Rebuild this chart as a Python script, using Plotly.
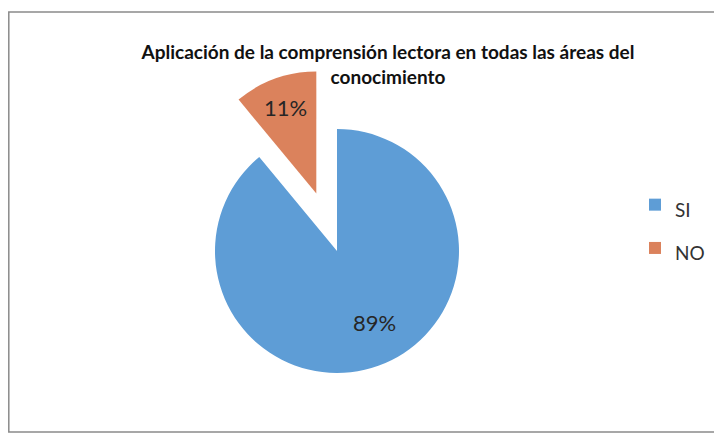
import plotly.graph_objects as go

labels = ["SI", "NO"]
values = [89, 11]
colors = ["#5e9dd6", "#db825c"]
pulls = [0, 0.5]
title_text = "Aplicación de la comprensión lectora en todas las áreas del<br>conocimiento"

W, H = 722, 436

legend_labels = [f'<span style="font-size:19px">{l}</span>' for l in labels]
nb = "\u00a0"
text_templates = [nb + "<br>" + nb * 6 + "%{percent}", "%{percent}"]

fig = go.Figure(go.Pie(
    labels=legend_labels,
    values=values,
    marker=dict(colors=colors, line=dict(width=0)),
    pull=pulls,
    sort=False,
    direction="clockwise",
    rotation=0,
    texttemplate=text_templates,
    textposition="inside",
    insidetextorientation="horizontal",
    textfont=dict(family="Lato", size=22, color="#262626"),
    hoverinfo="label+percent",
    domain=dict(x=[146 / W, 512 / W], y=[1 - 426 / H, 1 - 60 / H]),
))

fig.update_layout(
    width=W, height=H,
    margin=dict(l=0, r=0, t=0, b=0),
    paper_bgcolor="white",
    plot_bgcolor="white",
    title=dict(
        text=title_text,
        x=380 / W, xanchor="center",
        y=1 - 51 / H, yanchor="top",
        font=dict(family="Lato", size=19, color="#111111", weight="bold"),
    ),
    legend=dict(
        x=627 / W, xanchor="left",
        y=1 - 170 / H, yanchor="top",
        font=dict(family="Lato", size=31, color="#333333"),
        bgcolor="rgba(0,0,0,0)",
    ),
    shapes=[dict(
        type="rect", xref="paper", yref="paper",
        x0=0.8 / W, x1=1.03, y0=1 - 424 / H, y1=1 - 4 / H,
        line=dict(color="#8a8a8a", width=1.5),
        fillcolor="rgba(0,0,0,0)",
    )],
)

fig.write_html("out.html")
